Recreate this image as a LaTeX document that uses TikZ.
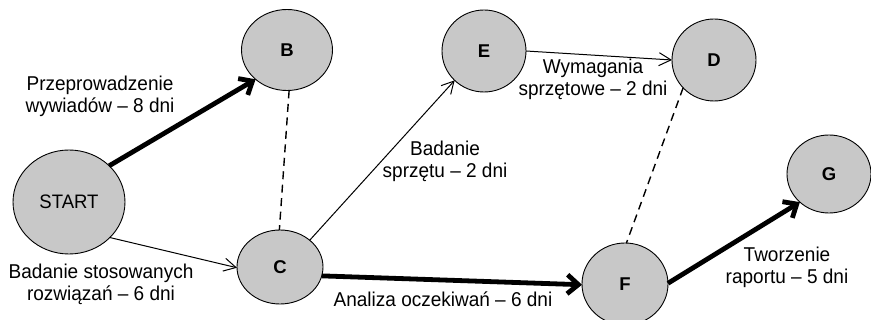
\documentclass[tikz,border=0pt]{standalone}
\usepackage{fontspec}
\setmainfont{Liberation Sans}
\newfontfamily\lblfont[FakeStretch=0.95]{Liberation Sans}
\usetikzlibrary{shapes.geometric,arrows.meta}
\definecolor{nodegray}{HTML}{C8C8C8}
\begin{document}
\begin{tikzpicture}[x=1pt,y=-1pt,
  evt/.style={ellipse,draw=black,line width=0.9pt,fill=nodegray,inner sep=0pt,outer sep=0pt,font=\fontsize{18.5}{22}\selectfont\bfseries},
  lbl/.style={align=center,inner sep=0pt,font=\lblfont\fontsize{20}{22}\selectfont},
  thin/.style={line width=1pt,-{Straight Barb[length=12pt,width=13pt]}},
  crit/.style={line width=4.8pt,-{Straight Barb[length=11pt,width=19pt]}},
  dummy/.style={line width=1.4pt,dash pattern=on 8pt off 5.5pt}]
\useasboundingbox (0,0) rectangle (871,320);
\node[evt,minimum width=112pt,minimum height=104pt,font=\lblfont\fontsize{19.5}{22}\selectfont] (S) at (69,202) {START};
\node[evt,minimum width=91pt,minimum height=81pt] (B) at (287,50) {B};
\node[evt,minimum width=86pt,minimum height=74pt] (C) at (280,267) {C};
\node[evt,minimum width=84pt,minimum height=82pt] (E) at (484,51) {E};
\node[evt,minimum width=84pt,minimum height=82pt] (D) at (714,60) {D};
\node[evt,minimum width=86pt,minimum height=82pt] (F) at (625,284) {F};
\node[evt,minimum width=84pt,minimum height=78pt] (G) at (829,174) {G};

\draw[crit] (S.42) -- (B.223);
\draw[thin] (S.319) -- (C.181);
\draw[dummy] (B.273) -- (C.91);
\draw[thin] (C.42) -- (E.225);
\draw[crit] (C.348) -- (F.181);
\draw[thin] (E.0) -- (D.180);
\draw[dummy] (D.222) -- (F.88);
\draw[crit] (F.1) -- (G.224);

\node[lbl] (l1) at (100,96) {Przeprowadzenie\\wywiadów – 8 dni};
\node[lbl] (l2) at (101,284) {Badanie stosowanych\\rozwiązań – 6 dni};
\node[lbl] (l3) at (445,161) {Badanie\\sprzętu – 2 dni};
\node[lbl] (l4) at (593,79) {Wymagania\\sprzętowe – 2 dni};
\node[lbl] (l5) at (443,299) {Analiza oczekiwań – 6 dni};
\node[lbl] (l6) at (787,267) {Tworzenie\\raportu – 5 dni};
\end{tikzpicture}
\end{document}
